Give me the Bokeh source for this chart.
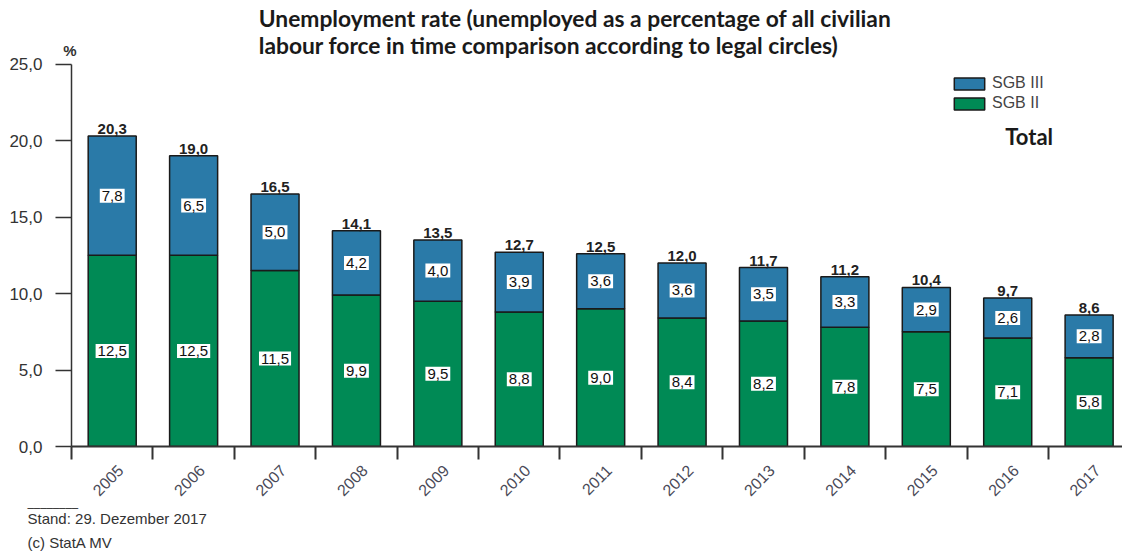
import numpy as np
from math import pi
from bokeh.plotting import figure
from bokeh.models import (ColumnDataSource, Range1d, FixedTicker, LinearAxis, Label,
                          Legend, LegendItem, Title)
from bokeh.core.properties import value
from bokeh.embed import file_html
from bokeh.resources import INLINE

years = ["2005", "2006", "2007", "2008", "2009", "2010", "2011", "2012",
         "2013", "2014", "2015", "2016", "2017"]
sgb2 = [12.5, 12.5, 11.5, 9.9, 9.5, 8.8, 9.0, 8.4, 8.2, 7.8, 7.5, 7.1, 5.8]
sgb3 = [7.8, 6.5, 5.0, 4.2, 4.0, 3.9, 3.6, 3.6, 3.5, 3.3, 2.9, 2.6, 2.8]
totals = [20.3, 19.0, 16.5, 14.1, 13.5, 12.7, 12.5, 12.0, 11.7, 11.2, 10.4, 9.7, 8.6]
y_ticks = [0, 5, 10, 15, 20, 25]

GREEN = "#008a55"
BLUE = "#2a7aa8"
EDGE = "#1a1a1a"
FONT = "Liberation Sans"
TFONT = "Lato"


def fmt(v):
    return f"{v:.1f}".replace(".", ",")


n = len(years)
xc = np.arange(n) + 0.5
s2 = np.array(sgb2)
s3 = np.array(sgb3)

src = ColumnDataSource(dict(
    xc=xc, sgb2=s2, sgb3=s3,
    y2=s2 / 2, y3=s2 + s3 / 2, ytop=s2 + s3,
    t2=[fmt(v) for v in sgb2], t3=[fmt(v) for v in sgb3],
    tt=[fmt(v) for v in totals],
))

p = figure(width=1122, height=556, output_backend="svg", toolbar_location=None,
           x_range=Range1d(0, 12.91), y_range=Range1d(0, 29.156),
           min_border_left=71, min_border_top=0, min_border_right=0,
           min_border_bottom=107, x_axis_location=None, y_axis_location=None)
p.outline_line_color = None
p.xgrid.visible = False
p.ygrid.visible = False

rs = p.vbar_stack(["sgb2", "sgb3"], x="xc", width=0.59, source=src,
                  fill_color=[GREEN, BLUE], line_color=EDGE, line_width=1.5)

# segment labels in white boxes
for ycol, tcol in (("y2", "t2"), ("y3", "t3")):
    p.text(x="xc", y=ycol, text=tcol, source=src, text_align="center",
           text_baseline="middle", text_font=value(FONT), text_font_size="15px",
           text_color="#111111", background_fill_color="white", padding=2)

# totals
p.text(x="xc", y="ytop", text="tt", source=src, text_align="center",
       text_baseline="bottom", y_offset=-2, text_font=value(FONT),
       text_font_size="15px", text_font_style="bold", text_color="#222222")

# y axis
yax = LinearAxis(ticker=FixedTicker(ticks=y_ticks), bounds=(0, 25),
                 major_label_overrides={t: fmt(t) for t in y_ticks})
yax.axis_line_color = "#333333"
yax.axis_line_width = 1.5
yax.major_tick_line_color = "#333333"
yax.major_tick_line_width = 1.5
yax.major_tick_out = 16
yax.major_tick_in = 0
yax.minor_tick_line_color = None
yax.major_label_text_font = FONT
yax.major_label_text_font_size = "17px"
yax.major_label_text_color = "#333333"
yax.major_label_standoff = 13
p.add_layout(yax, "left")

# "%" unit label as a second, line-less axis
pax = LinearAxis(ticker=FixedTicker(ticks=[25.9]), major_label_overrides={25.9: "%"})
pax.axis_line_color = None
pax.major_tick_line_color = None
pax.minor_tick_line_color = None
pax.major_label_text_font = FONT
pax.major_label_text_font_style = "bold"
pax.major_label_text_font_size = "15px"
pax.major_label_text_color = "#333333"
pax.major_label_standoff = -76
p.add_layout(pax, "left")

# x axis with boundary ticks
xax = LinearAxis(ticker=FixedTicker(ticks=list(range(n + 1))))
xax.axis_line_color = "#333333"
xax.axis_line_width = 2
xax.major_tick_line_color = "#333333"
xax.major_tick_line_width = 2
xax.major_tick_out = 13
xax.major_tick_in = 0
xax.minor_tick_line_color = None
xax.major_label_text_font_size = "0px"
xax.major_label_standoff = 0
p.add_layout(xax, "below")

# x axis with year labels
lt = xc + 0.1
lab = LinearAxis(ticker=FixedTicker(ticks=list(lt)),
                 major_label_overrides={float(x): y for x, y in zip(lt, years)})
lab.axis_line_color = None
lab.major_tick_line_color = None
lab.minor_tick_line_color = None
lab.major_label_orientation = pi / 4
lab.major_label_text_font = FONT
lab.major_label_text_font_size = "16px"
lab.major_label_text_color = "#4a4a58"
lab.major_label_standoff = 2
p.add_layout(lab, "below")

# footer
sep = Title(text="\u2500" * 8, align="left", offset=-44,
            text_font="DejaVu Sans", text_font_size="10.5px", text_font_style="normal",
            text_color="#333333", standoff=-9)
p.add_layout(sep, "below")
for txt, so in (("Stand: 29. Dezember 2017", -3), ("(c) StatA MV", 12)):
    p.add_layout(Title(text=txt, align="left", offset=-44, text_font=FONT,
                       text_font_size="15px", text_font_style="normal",
                       text_color="#333333", standoff=so), "below")

# legend
leg = Legend(items=[LegendItem(label="SGB III", renderers=[rs[1]]),
                    LegendItem(label="SGB II", renderers=[rs[0]])],
             location=(879, 333), orientation="vertical")
leg.glyph_width = 38
leg.glyph_height = 15
leg.label_height = 20
leg.spacing = 0
leg.padding = 0
leg.margin = 0
leg.label_standoff = 4
leg.border_line_color = None
leg.background_fill_alpha = 0
leg.label_text_font = FONT
leg.label_text_font_size = "16px"
leg.label_text_color = "#444444"
p.add_layout(leg)

p.add_layout(Label(x=11.47, y=20.26, text="Total", text_font=TFONT,
                   text_font_style="bold", text_font_size="22px",
                   text_color="#1a1a1a", text_baseline="middle"))

# title
p.add_layout(Label(x=2.30, y=27.99,
                   text="Unemployment rate (unemployed as a percentage of all civilian",
                   text_font=TFONT, text_font_style="bold", text_font_size="22.8px",
                   text_color="#1a1a1a", text_baseline="middle"))
p.add_layout(Label(x=2.30, y=26.23,
                   text="labour force in time comparison according to legal circles)",
                   text_font=TFONT, text_font_style="bold", text_font_size="22.8px",
                   text_color="#1a1a1a", text_baseline="middle"))

open("out.html", "w").write(file_html(p, INLINE))
